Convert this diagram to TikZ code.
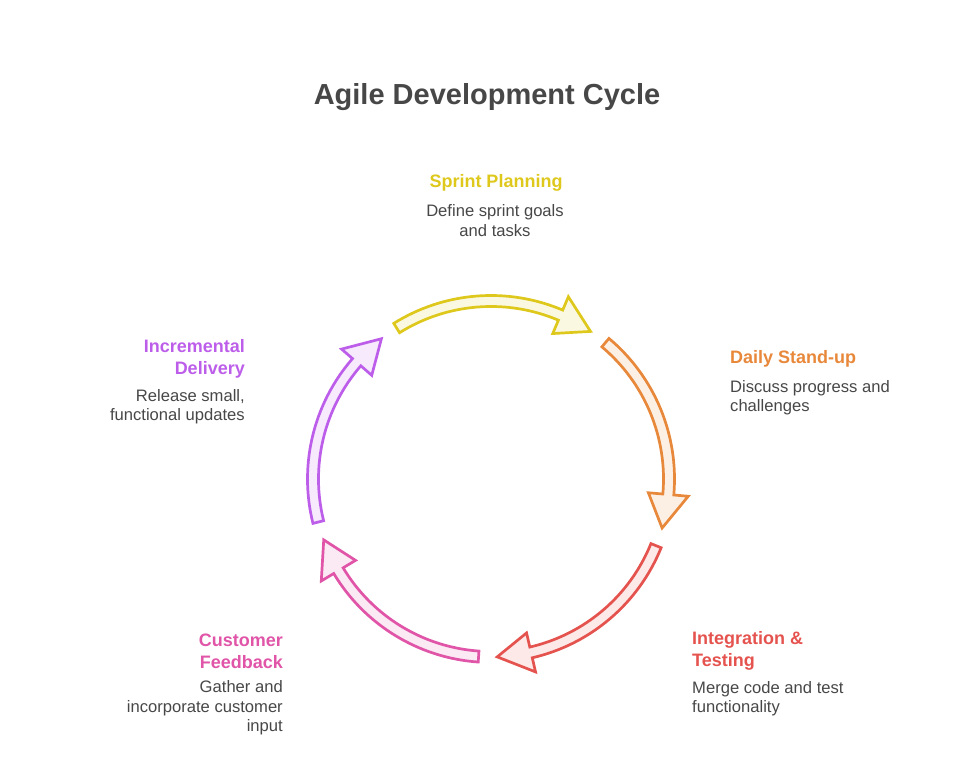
\documentclass[tikz,border=0pt]{standalone}
\usepackage{fontspec}
\setmainfont{Liberation Sans}
\usepackage{tikz}
\definecolor{sprintc}{HTML}{DEC81C}
\definecolor{standc}{HTML}{E8883A}
\definecolor{testc}{HTML}{E5534F}
\definecolor{feedc}{HTML}{E055A8}
\definecolor{delivc}{HTML}{BD5EEA}
\definecolor{textc}{HTML}{474747}

\begin{document}
\begin{tikzpicture}[x=1pt,y=1pt,
	arr/.style={line width=2.7pt, line join=miter},
	head/.style={inner sep=0pt, font=\fontsize{18}{22}\selectfont\bfseries},
	desc/.style={inner sep=0pt, text=textc, font=\fontsize{16.6}{19.5}\selectfont}]
	\useasboundingbox (0,0) rectangle (975,765);
	\coordinate (o) at (491,286);
	% the five curved arrows round the cycle
	\foreach \c/\s in {sprintc/122, standc/50, testc/-22, feedc/-94, delivc/-166}{
		\pgfmathsetmacro\b{\s-55}
		\pgfmathsetmacro\e{\s-66}
		\draw[arr, draw=\c, fill=\c!13, shift={(o)}] (\s:183.5) arc[start angle=\s, end angle=\b, radius=183.5]
			-- (\b:198) -- (\e:178) -- (\b:158) -- (\b:172.5)
			arc[start angle=\b, end angle=\s, radius=172.5] -- cycle;
	}
	\path (487,668) node(title)[inner sep=0pt, text=textc, font=\fontsize{29}{34}\selectfont\bfseries] {Agile Development Cycle}
		(496,582) node(sprint)[head, text=sprintc] {Sprint Planning}
		(495,544.5) node(sprintd)[desc, align=center] {Define sprint goals\\and tasks}
		(730,406) node(stand)[head, text=standc, anchor=west] {Daily Stand-up}
		(730,367.5) node(standd)[desc, align=left, anchor=west] {Discuss progress and\\challenges}
		(692,114) node(test)[head, text=testc, align=left, anchor=west] {Integration \&\\Testing}
		(692,66.5) node(testd)[desc, align=left, anchor=west] {Merge code and test\\functionality}
		(283,114) node(feed)[head, text=feedc, align=right, anchor=east] {Customer\\Feedback}
		(283,57) node(feedd)[desc, align=right, anchor=east] {Gather and\\incorporate customer\\input}
		(245,406) node(deliv)[head, text=delivc, align=right, anchor=east] {Incremental\\Delivery}
		(245,358.5) node(delivd)[desc, align=right, anchor=east] {Release small,\\functional updates};
\end{tikzpicture}
\end{document}
